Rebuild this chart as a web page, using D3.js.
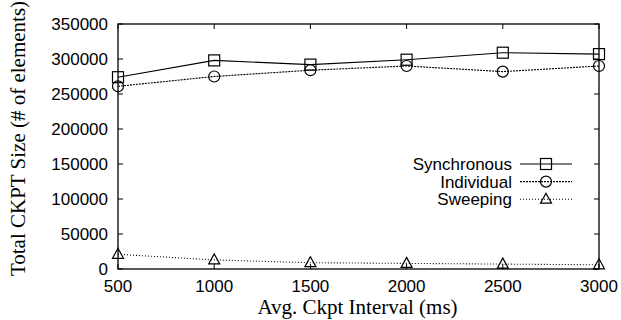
<!DOCTYPE html>
<html>
<head>
<meta charset="utf-8">
<script src="https://cdn.jsdelivr.net/npm/d3@7"></script>
<style>
  html, body { margin: 0; padding: 0; background: #fff; }
  svg { display: block; }
</style>
</head>
<body>
<div id="chart"></div>
<script>
// checkpoint size vs interval, three strategies
const intervals = [500, 1000, 1500, 2000, 2500, 3000];
const synchronous = [274000, 298000, 292000, 299000, 309000, 307000];
const individual = [261000, 275000, 284000, 290000, 282000, 290000];
const sweeping = [21000, 13000, 9000, 8000, 7000, 6000];
const yTicks = [0, 50000, 100000, 150000, 200000, 250000, 300000, 350000];

const seriesList = [
    { name: "Synchronous", values: synchronous, dash: null, marker: "square" },
    { name: "Individual", values: individual, dash: "2,1", marker: "circle" },
    { name: "Sweeping", values: sweeping, dash: "1,2", marker: "triangle" },
];

const width = 621, height = 320;
const margin = { left: 118, right: 22, top: 24, bottom: 51 };
const INK = "#000";
const SANS = "'Liberation Sans', Arial, Helvetica, sans-serif";
const SERIF = "'Liberation Serif', 'Times New Roman', serif";

const svg = d3.select("#chart").append("svg")
    .attr("width", width)
    .attr("height", height);

const x = d3.scaleLinear()
    .domain([500, 3000])
    .range([margin.left, width - margin.right]);
const y = d3.scaleLinear()
    .domain([0, 350000])
    .range([height - margin.bottom, margin.top]);

const x0 = x.range()[0], x1 = x.range()[1];
const y0 = y.range()[0], y1 = y.range()[1];
const tickLen = 5;

// frame
svg.append("rect")
    .attr("x", x0).attr("y", y1)
    .attr("width", x1 - x0).attr("height", y0 - y1)
    .attr("fill", "none")
    .attr("stroke", INK)
    .attr("stroke-width", 1.3);

// ticks (inward, mirrored)
const tickG = svg.append("g").attr("stroke", INK).attr("stroke-width", 1);
intervals.forEach(v => {
    tickG.append("line").attr("x1", x(v)).attr("x2", x(v)).attr("y1", y0).attr("y2", y0 - tickLen);
    tickG.append("line").attr("x1", x(v)).attr("x2", x(v)).attr("y1", y1).attr("y2", y1 + tickLen);
});
yTicks.forEach(v => {
    tickG.append("line").attr("x1", x0).attr("x2", x0 + tickLen).attr("y1", y(v)).attr("y2", y(v));
    tickG.append("line").attr("x1", x1).attr("x2", x1 - tickLen).attr("y1", y(v)).attr("y2", y(v));
});

// tick labels
svg.append("g").selectAll("text")
    .data(yTicks)
    .enter()
    .append("text")
    .attr("x", x0 - 10)
    .attr("y", d => y(d))
    .attr("dy", "0.36em")
    .attr("text-anchor", "end")
    .style("font-family", SANS)
    .style("font-size", "17px")
    .text(d => d);

svg.append("g").selectAll("text")
    .data(intervals)
    .enter()
    .append("text")
    .attr("x", d => x(d))
    .attr("y", y0 + 23)
    .attr("text-anchor", "middle")
    .style("font-family", SANS)
    .style("font-size", "17px")
    .text(d => d);

// axis titles
svg.append("text")
    .attr("x", x((500 + 3000) / 2) - 1)
    .attr("y", 314)
    .attr("text-anchor", "middle")
    .style("font-family", SERIF)
    .style("font-size", "21px")
    .text("Avg. Ckpt Interval (ms)");

svg.append("text")
    .attr("transform", `translate(25, ${(y0 + y1) / 2 - 8}) rotate(-90)`)
    .attr("text-anchor", "middle")
    .style("font-family", SERIF)
    .style("font-size", "21px")
    .text("Total CKPT Size (# of elements)");

function drawMarker(g, type, cx, cy) {
    if (type === "square") {
        g.append("rect")
            .attr("x", cx - 5.5).attr("y", cy - 5.5)
            .attr("width", 11).attr("height", 11)
            .attr("fill", "none").attr("stroke", INK).attr("stroke-width", 1.2);
    } else if (type === "circle") {
        g.append("circle")
            .attr("cx", cx).attr("cy", cy).attr("r", 5.5)
            .attr("fill", "none").attr("stroke", INK).attr("stroke-width", 1.2);
    } else {
        g.append("path")
            .attr("d", `M${cx},${cy - 6}L${cx + 5.5},${cy + 4}L${cx - 5.5},${cy + 4}Z`)
            .attr("fill", "none").attr("stroke", INK).attr("stroke-width", 1.2);
    }
}

const line = d3.line()
    .x((d, i) => x(intervals[i]))
    .y(d => y(d));

seriesList.forEach(s => {
    const g = svg.append("g");
    g.append("path")
        .attr("d", line(s.values))
        .attr("fill", "none")
        .attr("stroke", INK)
        .attr("stroke-width", 1.1)
        .attr("stroke-dasharray", s.dash);
    s.values.forEach((v, i) => drawMarker(g, s.marker, x(intervals[i]), y(v)));
});

// legend
const legend = svg.append("g");
seriesList.forEach((s, i) => {
    const ly = 164 + i * 17.6;
    legend.append("text")
        .attr("x", 512)
        .attr("y", ly)
        .attr("dy", "0.36em")
        .attr("text-anchor", "end")
        .style("font-family", SANS)
        .style("font-size", "17px")
        .text(s.name);
    legend.append("line")
        .attr("x1", 520).attr("x2", 572)
        .attr("y1", ly).attr("y2", ly)
        .attr("stroke", INK)
        .attr("stroke-width", 1.1)
        .attr("stroke-dasharray", s.dash);
    drawMarker(legend, s.marker, 546, ly);
});
</script>
</body>
</html>
